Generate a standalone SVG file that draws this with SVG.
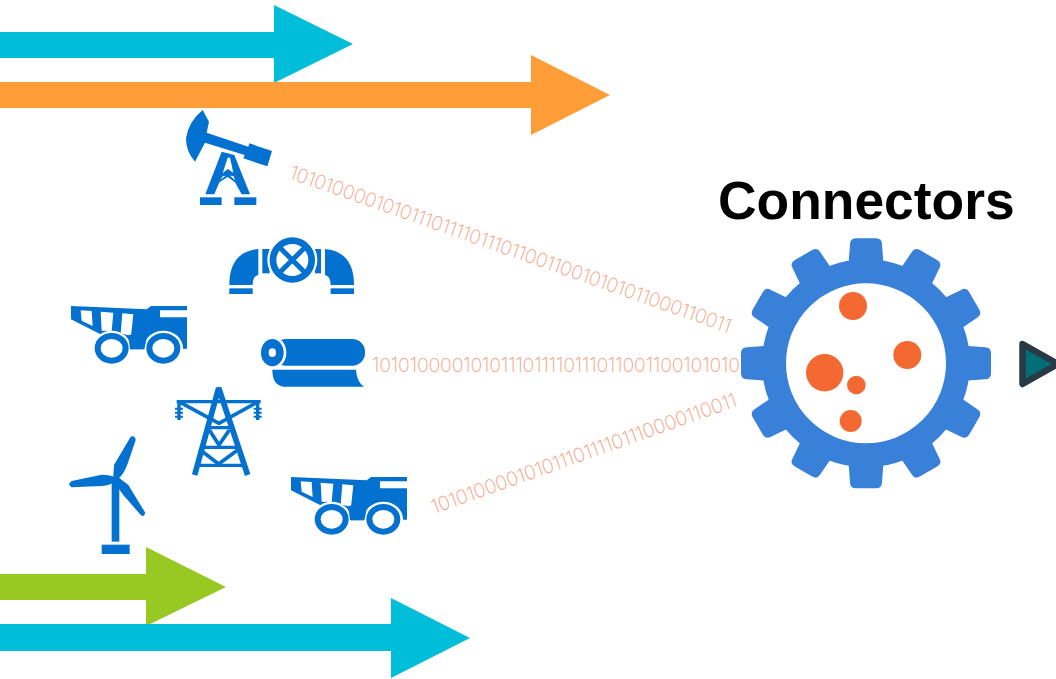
<svg xmlns="http://www.w3.org/2000/svg" width="1056" height="679" viewBox="0 0 1056 679">
<style>
.ic{fill:#0271cf}
.ln{fill:none;stroke:#0271cf;stroke-linecap:butt;stroke-linejoin:bevel}
.bits{font-family:"Inter","Lato","Liberation Sans",sans-serif;font-weight:200;font-size:19.5px;fill:#f79d7c}
.dot{fill:#f46831}
.gear{fill:#3880d8}
.cy{fill:#00bdd9}
.or{fill:#ff9d38}
.gr{fill:#98c822}
</style>
<defs>
<path id="tooth" class="gear" d="M-18,-92 L-16,-119 Q-16,-125 -10,-125 H10 Q16,-125 16,-119 L18,-92 Z"/>
<g id="truck">
<path class="ic" d="M18,18 L245,28 L258,18 L366,18 L366,31 L285,31 L285,52 L366,52 L366,146 L190,148 L175,112 L105,102 L18,58 Z"/>
<path fill="#fff" d="M47,31 L80,33 L83,78 L50,62 Z M107,35 L145,38 L140,93 L110,92 Z M172,40 L205,43 L198,108 L167,100 Z"/>
<ellipse cx="140" cy="145" rx="58" ry="53" fill="#fff"/>
<ellipse cx="295" cy="145" rx="59" ry="53" fill="#fff"/>
<path class="ic" d="M195,148 H238 L244,120 L225,100 L190,105 Z"/>
<ellipse cx="140" cy="145" rx="42" ry="37" fill="none" stroke="#0271cf" stroke-width="18"/>
<ellipse cx="295" cy="145" rx="42" ry="37" fill="none" stroke="#0271cf" stroke-width="18"/>
</g>
</defs>

<g id="connectors">
<path id="arrow-cyan-top" class="cy" d="M0,32 H274 V5 L353,44 L274,83 V58 H0 Z"/>
<path id="arrow-orange" class="or" d="M0,82 H531 V55 L610,95 L531,135 V108 H0 Z"/>
<path id="arrow-green" class="gr" d="M0,574 H146 V547 L226,587 L146,626 V600 H0 Z"/>
<path id="arrow-cyan-bottom" class="cy" d="M0,624 H391 V598 L470,638 L391,678 V651 H0 Z"/>
<text class="bits" transform="translate(288 178) rotate(19.4)" textLength="467" lengthAdjust="spacing">101010000101011101111011101100110010101011000110011</text>
<text class="bits" x="372" y="372" textLength="368" lengthAdjust="spacing">1010100001010111011110111011001100101010</text>
<text class="bits" transform="translate(434 514) rotate(-19.600)" textLength="323" lengthAdjust="spacing">10101000010101110111101110000110011</text>
</g>

<g id="pumpjack" transform="translate(180 105) scale(.33333)">
<path class="ic" d="M68,15 L87,50 L80,83 L205,125 L208,115 L276,138 L262,184 L190,160 L194,150 L75,113 L45,170 Q18,140 18,100 Q25,50 68,15 Z"/>
<path class="ic" d="M125,140 L163,150 L210,268 L185,268 L165,232 L143,216 L118,232 L103,268 L76,268 Z"/>
<path fill="#fff" d="M143,158 L150,158 L160,203 L143,192 L128,205 Z M128,214 L137,212 L121,225 Z M150,212 L161,213 L165,226 Z"/>
<rect class="ic" x="60" y="277" width="65" height="23"/>
<rect class="ic" x="163" y="277" width="66" height="23"/>
</g>

<g id="valve" transform="translate(225 235) scale(.33333)">
<rect class="ic" x="112" y="42" width="22" height="73"/>
<rect class="ic" x="270" y="42" width="18" height="73"/>
<circle cx="202" cy="75" r="75" fill="#fff"/>
<circle cx="202" cy="75" r="58" fill="none" stroke="#0271cf" stroke-width="20"/>
<path class="ln" stroke-width="15" d="M165,38 L239,112 M239,38 L165,112"/>
<path class="ic" d="M100,42 V120 Q84,122 83,150 H13 Q13,50 100,42 Z"/>
<path class="ic" d="M300,42 V120 Q316,122 317,150 H387 Q387,50 300,42 Z"/>
<rect class="ic" x="13" y="160" width="70" height="17"/>
<rect class="ic" x="317" y="160" width="70" height="17"/>
</g>

<g id="truck-1" transform="translate(65 300) scale(.33333)"><use href="#truck"/></g>
<g id="truck-2" transform="translate(285 471) scale(.33333)"><use href="#truck"/></g>

<g id="roll" transform="translate(60 330) scale(.33333)">
<rect class="ic" x="640" y="27" width="275" height="80" rx="38"/>
<ellipse cx="637" cy="68" rx="42" ry="48" fill="#fff"/>
<ellipse class="ic" cx="637" cy="68" rx="34" ry="41"/>
<ellipse cx="637" cy="68" rx="11" ry="13" fill="#fff"/>
<path class="ic" d="M637,119 L888,119 Q890,155 912,170 L670,170 Q637,165 637,119 Z"/>
</g>

<g id="pylon" transform="translate(170 380) scale(.33333)">
<path class="ln" stroke-width="17" d="M74,285 L146,24 L233,285"/>
<path class="ln" stroke-width="10" d="M20,65 H272 M112,143 H182 M96,202 H198 M80,256 H218"/>
<path class="ln" stroke-width="11" d="M32,68 L147,130 L260,68 M118,150 L147,195 L178,150 M88,208 L146,252 L206,208"/>
<path class="ln" stroke-width="10" d="M27,62 V120 M263,62 V120"/>
<path class="ln" stroke-width="6" d="M15,86 H39 M15,98 H39 M15,110 H39 M251,86 H275 M251,98 H275 M251,110 H275"/>
</g>

<g id="windmill" transform="translate(60 330) scale(.33333)">
<path class="ic" d="M155,440 H178 V635 H155 Z"/>
<rect class="ic" x="125" y="644" width="84" height="28"/>
<path class="ic" d="M212,320 Q225,315 227,330 L205,395 Q195,425 180,442 L160,440 L162,405 Z"/>
<path class="ic" d="M35,453 L125,434 Q145,434 162,440 L160,458 Q140,468 125,468 L35,472 Q20,463 35,453 Z"/>
<path class="ic" d="M175,442 L205,465 L255,547 Q255,562 243,556 L190,495 L172,470 Z"/>
</g>

<text id="title" x="718" y="219" font-family="'Liberation Sans',Arial,sans-serif" font-weight="700" font-size="53.400">Connectors</text>

<g id="gear" transform="translate(866 363.300)">
<circle cx="0" cy="0" r="92" fill="none" stroke="#3880d8" stroke-width="24"/>
<use href="#tooth"/>
<use href="#tooth" transform="rotate(30)"/>
<use href="#tooth" transform="rotate(60)"/>
<use href="#tooth" transform="rotate(90)"/>
<use href="#tooth" transform="rotate(120)"/>
<use href="#tooth" transform="rotate(150)"/>
<use href="#tooth" transform="rotate(180)"/>
<use href="#tooth" transform="rotate(210)"/>
<use href="#tooth" transform="rotate(240)"/>
<use href="#tooth" transform="rotate(270)"/>
<use href="#tooth" transform="rotate(300)"/>
<use href="#tooth" transform="rotate(330)"/>
<circle class="dot" cx="-13" cy="-57.300" r="14"/>
<circle class="dot" cx="41.300" cy="-8.300" r="14"/>
<circle class="dot" cx="-41.300" cy="9.400" r="18.700"/>
<circle class="dot" cx="-9.700" cy="21.700" r="9.300"/>
<circle class="dot" cx="-15.300" cy="57.700" r="11"/>
</g>

<path id="play" d="M1022.500,344 L1058,364 L1022.500,384 Z" fill="#006d77" stroke="#2a3a44" stroke-width="6.500" stroke-linejoin="round"/>
</svg>
